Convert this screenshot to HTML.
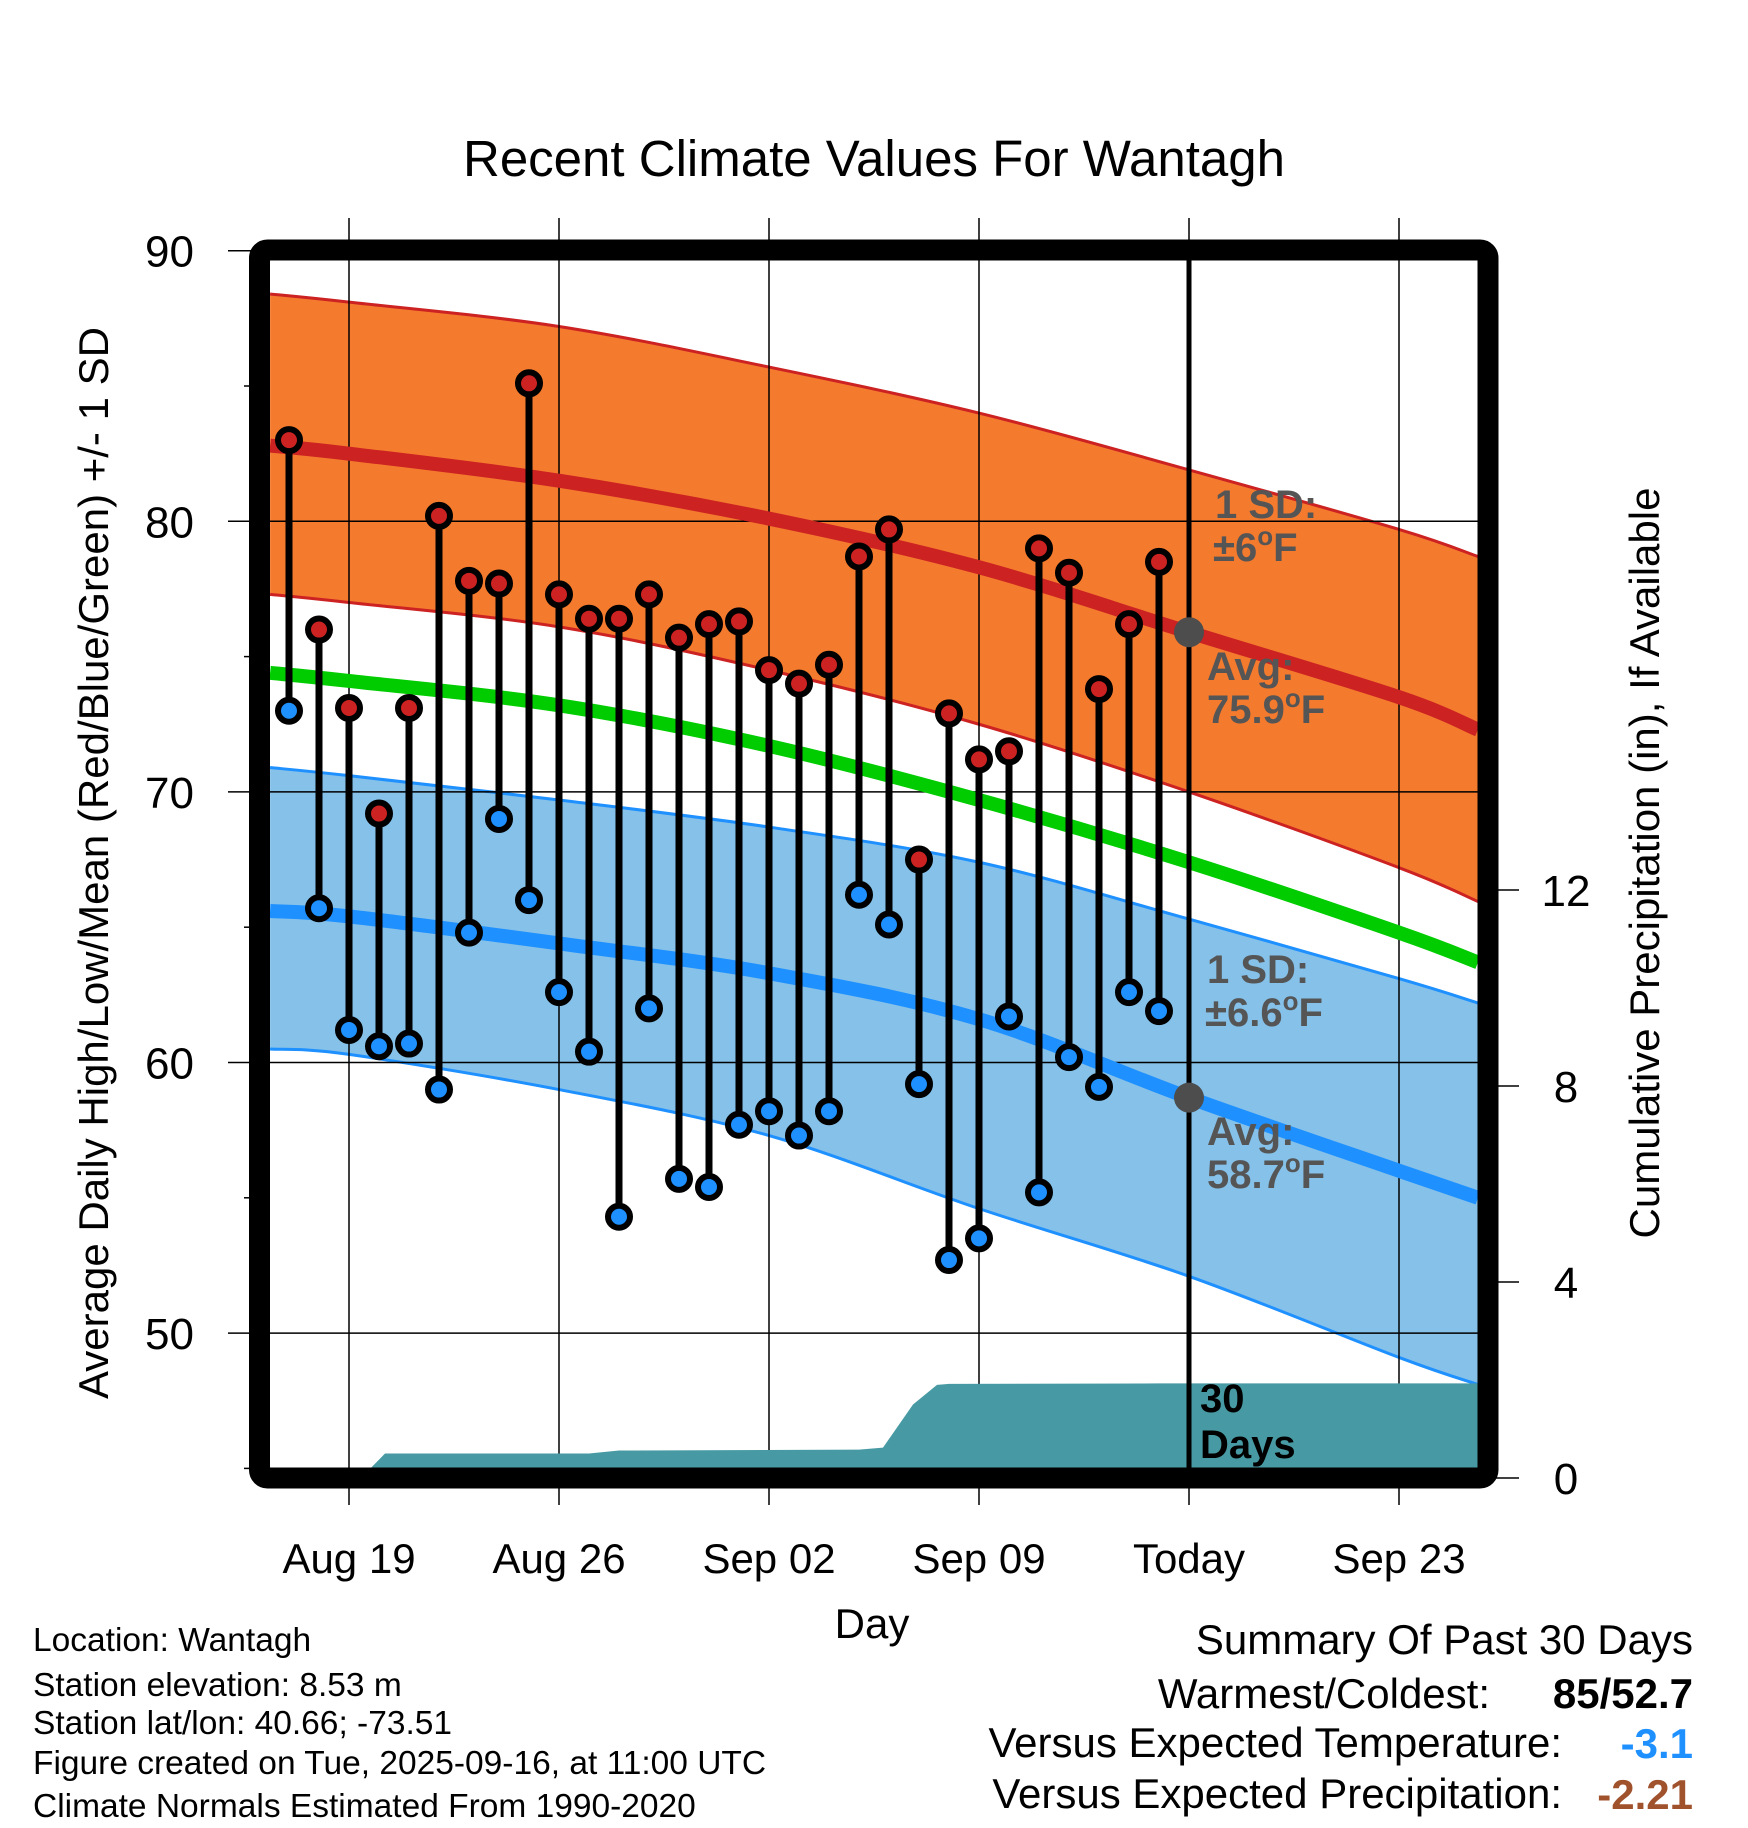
<!DOCTYPE html>
<html><head><meta charset="utf-8"><style>
html,body{margin:0;padding:0;background:#fff;}
svg{display:block;font-family:"Liberation Sans",sans-serif;}
</style></head>
<body>
<svg id="chart" width="1748" height="1828" viewBox="0 0 1748 1828" xmlns="http://www.w3.org/2000/svg">
<g id="bands"></g>
<g id="grid"></g>
<g id="precip"></g>
<g id="lines"></g>
<g id="marks"></g>
<g id="frame"></g>
<g id="labels"></g>
</svg>
<script>
// ---- data ----
const normDays = [-2.63, 0, 7, 14, 21, 28, 35, 37.63];
const highUpper = [88.4, 88.1, 87.2, 85.7, 84.0, 81.9, 79.7, 78.7];
const highMean  = [82.8, 82.5, 81.5, 80.1, 78.3, 75.9, 73.5, 72.3];
const highLower = [77.3, 77.0, 76.1, 74.5, 72.5, 70.0, 67.2, 65.95];
const avgMean   = [74.4, 74.1, 73.2, 71.7, 69.7, 67.4, 64.8, 63.7];
const lowUpper  = [70.9, 70.6, 69.7, 68.7, 67.4, 65.3, 63.1, 62.2];
const lowMean   = [65.6, 65.4, 64.4, 63.3, 61.6, 58.7, 56.0, 55.0];
const lowLower  = [60.5, 60.3, 59.0, 57.3, 54.6, 52.1, 49.1, 48.1];
const obsDays = [-2,-1,0,1,2,3,4,5,6,7,8,9,10,11,12,13,14,15,16,17,18,19,20,21,22,23,24,25,26,27];
const obsHigh = [83,76,73.1,69.2,73.1,80.2,77.8,77.7,85.1,77.3,76.4,76.4,77.3,75.7,76.2,76.3,74.5,74,74.7,78.7,79.7,67.5,72.9,71.2,71.5,79,78.1,73.8,76.2,78.5];
const obsLow  = [73,65.7,61.2,60.6,60.7,59,64.8,69,66,62.6,60.4,54.3,62,55.7,55.4,57.7,58.2,57.3,58.2,66.2,65.1,59.2,52.7,53.5,61.7,55.2,60.2,59.1,62.6,61.9];
const precipDays = [-2,-1,0,0.4,1.2,8,9,17,17.8,18.8,19.6,20,27,37.63];
const precipVals = [0,0,0,0,0.5,0.5,0.56,0.58,0.62,1.5,1.9,1.92,1.93,1.93];
const xTickDays = [0,7,14,21,28,35];
const xTickLabels = ["Aug 19","Aug 26","Sep 02","Sep 09","Today","Sep 23"];
const yTicks = [50,60,70,80,90];
const yMinor = [45,55,65,75,85];
const pTicks = [0,4,8,12];

// ---- scales ----
const X0=270, X1=1478, Y0=260, Y1=1468;
const x = d => 349 + d*30;
const y = t => 250.7 + (90-t)*27.06;
const yp = p => 1478 - p*49;
const NS="http://www.w3.org/2000/svg";
function mk(tag, parent, attrs){const e=document.createElementNS(NS,tag);for(const k in attrs)e.setAttribute(k,attrs[k]);document.getElementById(parent).appendChild(e);return e;}
function pts(days, vals, f){return days.map((d,i)=>[x(d), f(vals[i])]);}
function smooth(P){ // catmull-rom to bezier
  let s="";
  for(let i=0;i<P.length-1;i++){
    const p0=P[Math.max(i-1,0)],p1=P[i],p2=P[i+1],p3=P[Math.min(i+2,P.length-1)];
    const c1=[p1[0]+(p2[0]-p0[0])/6,p1[1]+(p2[1]-p0[1])/6];
    const c2=[p2[0]-(p3[0]-p1[0])/6,p2[1]-(p3[1]-p1[1])/6];
    s+=" C"+c1.join(",")+" "+c2.join(",")+" "+p2.join(",");
  }
  return s;
}
function curve(vals){const P=pts(normDays,vals,y);return "M"+P[0].join(",")+smooth(P);}
function band(up, lo){const A=pts(normDays,up,y), B=pts(normDays,lo,y).reverse();return "M"+A[0].join(",")+smooth(A)+" L"+B[0].join(",")+smooth(B)+" Z";}

let e;
e=mk('path','bands',{d:band(highUpper,highLower),fill:'#f47a2e'});


e=mk('path','bands',{d:band(lowUpper,lowLower),fill:'#85c1e9'});


[[highUpper,'#cc2222','high-upper-line'],[highLower,'#cc2222','high-lower-line'],[lowUpper,'#1e90ff','low-upper-line'],[lowLower,'#1e90ff','low-lower-line']].forEach(a=>{
  e=mk('path','bands',{d:curve(a[0]),fill:'none',stroke:a[1],'stroke-width':3});
  
  
});

// grid
xTickDays.forEach(d=>{
  e=mk('line','grid',{x1:x(d),x2:x(d),y1:218,y2:1505,stroke:'#000','stroke-width':1.5});
  
  
});
yTicks.forEach(t=>{
  e=mk('line','grid',{x1:228,x2:X1,y1:y(t),y2:y(t),stroke:'#000','stroke-width':1.5});
  
  
});
yMinor.forEach(t=>{
  e=mk('line','grid',{x1:244,x2:260,y1:y(t),y2:y(t),stroke:'#000','stroke-width':1.5});
  
  
});
pTicks.forEach(p=>{
  e=mk('line','grid',{x1:1490,x2:1519,y1:yp(p),y2:yp(p),stroke:'#000','stroke-width':1.5});
  
  
});

// precip area
e=mk('polygon','precip',{points:pts(precipDays,precipVals,yp).map(p=>p.join(",")).concat([x(37.63)+","+yp(0),x(-2)+","+yp(0)]).join(" "),fill:'#479aa3'});



// mean lines
[[avgMean,'#00cc00','avg-mean-line'],[highMean,'#cc2222','high-mean-line'],[lowMean,'#1e90ff','low-mean-line']].forEach(a=>{
  e=mk('path','lines',{d:curve(a[0]),fill:'none',stroke:a[1],'stroke-width':14});
  
  
});

// today line
e=mk('line','lines',{x1:x(28),x2:x(28),y1:Y0,y2:Y1,stroke:'#000','stroke-width':5});


e=mk('circle','lines',{cx:x(28),cy:y(highMean[5]),r:15,fill:'#4d4d4d'});


e=mk('circle','lines',{cx:x(28),cy:y(lowMean[5]),r:15,fill:'#4d4d4d'});



// observations
obsDays.forEach((d,i)=>{
  e=mk('line','marks',{x1:x(d),x2:x(d),y1:y(obsHigh[i]),y2:y(obsLow[i]),stroke:'#000','stroke-width':7});
  
  
  e=mk('circle','marks',{cx:x(d),cy:y(obsHigh[i]),r:11,fill:'#cc2222',stroke:'#000','stroke-width':6});
  
  
  e=mk('circle','marks',{cx:x(d),cy:y(obsLow[i]),r:11,fill:'#1e90ff',stroke:'#000','stroke-width':6});
  
  
});

// frame
e=mk('rect','frame',{x:259.5,y:250,width:1228.5,height:1228,fill:'none',stroke:'#000','stroke-width':21,rx:8});



// labels
function txt(s,xx,yy,attrs,name){const t=mk('text','labels',Object.assign({x:xx,y:yy},attrs));t.textContent=s;return t;}
yTicks.forEach(t=>txt(String(t),194,y(t)+16,{'font-size':44,'text-anchor':'end'},'y-tick-label'));
pTicks.forEach(p=>txt(String(p),1566,yp(p)+16,{'font-size':44,'text-anchor':'middle'},'precip-tick-label'));
xTickDays.forEach((d,i)=>txt(xTickLabels[i],x(d),1573,{'font-size':42,'text-anchor':'middle'},'x-tick-label'));
</script>
<script>
(function(){
const L=document.getElementById('labels');
L.insertAdjacentHTML('beforeend',`
<text x="874" y="176" font-size="51" text-anchor="middle">Recent Climate Values For Wantagh</text>
<text x="872" y="1638" font-size="42" text-anchor="middle">Day</text>
<text transform="translate(108,863) rotate(-90)" font-size="42" text-anchor="middle">Average Daily High/Low/Mean (Red/Blue/Green) +/- 1 SD</text>
<text transform="translate(1659,863) rotate(-90)" font-size="42" text-anchor="middle">Cumulative Precipitation (in), If Available</text>
<g font-weight="bold" font-size="40" fill="#555">
<text x="1215" y="518">1 SD:</text><text x="1213" y="561">±6<tspan font-size="26" dy="-16">o</tspan><tspan dy="16">F</tspan></text>
<text x="1207" y="680">Avg:</text><text x="1207" y="723">75.9<tspan font-size="26" dy="-16">o</tspan><tspan dy="16">F</tspan></text>
</g>
<g font-weight="bold" font-size="40" fill="#555">
<text x="1207" y="983">1 SD:</text><text x="1205" y="1026">±6.6<tspan font-size="26" dy="-16">o</tspan><tspan dy="16">F</tspan></text>
<text x="1207" y="1145">Avg:</text><text x="1207" y="1188">58.7<tspan font-size="26" dy="-16">o</tspan><tspan dy="16">F</tspan></text>
</g>
<g font-weight="bold" font-size="40" fill="#000">
<text x="1200" y="1412">30</text><text x="1200" y="1458">Days</text>
</g>
<g font-size="33.5" fill="#000">
<text x="33" y="1651">Location: Wantagh</text>
<text x="33" y="1696">Station elevation: 8.53 m</text>
<text x="33" y="1734">Station lat/lon: 40.66; -73.51</text>
<text x="33" y="1774">Figure created on Tue, 2025-09-16, at 11:00 UTC</text>
<text x="33" y="1817">Climate Normals Estimated From 1990-2020</text>
</g>
<g font-size="42" fill="#000">
<text x="1693" y="1654" text-anchor="end">Summary Of Past 30 Days</text>
<text x="1490" y="1708" text-anchor="end">Warmest/Coldest:</text>
<text x="1693" y="1708" text-anchor="end" font-weight="bold">85/52.7</text>
<text x="1562" y="1757" text-anchor="end">Versus Expected Temperature:</text>
<text x="1693" y="1758" text-anchor="end" font-weight="bold" fill="#1e90ff">-3.1</text>
<text x="1562" y="1808" text-anchor="end">Versus Expected Precipitation:</text>
<text x="1693" y="1809" text-anchor="end" font-weight="bold" fill="#a0522d">-2.21</text>
</g>`);
})();
</script>
</body></html>
